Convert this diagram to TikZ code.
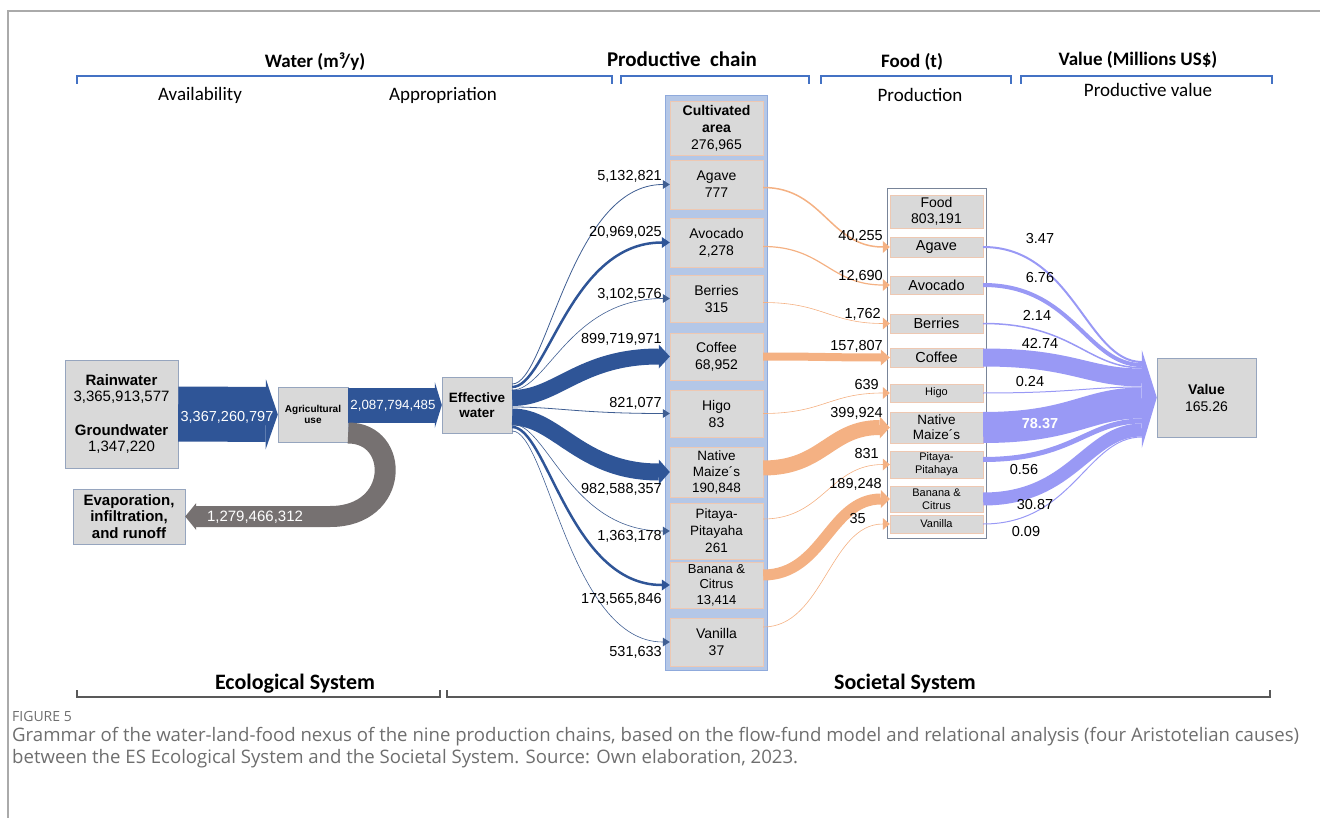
\documentclass[tikz,border=0pt]{standalone}
\usepackage{fontspec}
\setmainfont{Liberation Sans}
\newfontfamily\headFont{Carlito}
\newfontfamily\captionFont{Open Sans}
\usepackage{tikz}
\usetikzlibrary{arrows.meta}
\definecolor{boxGray}{RGB}{217,217,217}
\definecolor{boxEdge}{RGB}{150,165,190}
\definecolor{cropEdge}{RGB}{238,200,178}
\definecolor{stripBlue}{RGB}{180,199,231}
\definecolor{stripEdge}{RGB}{143,170,220}
\definecolor{waterBlue}{RGB}{47,85,151}
\definecolor{foodOrange}{RGB}{244,177,131}
\definecolor{valuePurple}{RGB}{153,153,245}
\definecolor{lossGray}{RGB}{118,113,113}
\definecolor{headBlue}{RGB}{68,114,196}
\definecolor{frameGray}{RGB}{170,170,170}
\definecolor{captionGray}{RGB}{110,110,110}

\begin{document}
\begin{tikzpicture}[x=1pt,y=-1pt]

            \tikzstyle{headLabel} = [font=\headFont\bfseries\fontsize{19}{22}\selectfont, inner sep=0pt];
            \tikzstyle{subLabel} = [font=\headFont\fontsize{19}{22}\selectfont, inner sep=0pt];
            \tikzstyle{sysLabel} = [font=\headFont\bfseries\fontsize{22}{26}\selectfont, inner sep=0pt];
            \tikzstyle{topBracket} = [headBlue, line width=2pt];
            \tikzstyle{botBracket} = [black!65, line width=1.3pt];
            \tikzstyle{srcBox} = [draw=boxEdge, fill=boxGray, inner sep=0pt, align=center, font=\bfseries\fontsize{15}{16.5}\selectfont];
            \tikzstyle{cropBox} = [draw=cropEdge, fill=boxGray, inner sep=0pt, align=center, minimum width=93pt, font=\fontsize{14}{17}\selectfont];
            \tikzstyle{foodBox} = [draw=cropEdge, fill=boxGray, inner sep=0pt, align=center, minimum width=93pt, font=\fontsize{14.5}{16}\selectfont];
            \tikzstyle{flowLabel} = [font=\fontsize{14.5}{16}\selectfont, inner sep=0pt];
            \tikzstyle{arrowLabel} = [font=\fontsize{14.5}{16}\selectfont, text=white, inner sep=0pt];
            \tikzstyle{capText} = [font=\captionFont\fontsize{18.6}{22}\selectfont, text=captionGray, inner sep=0pt, align=left];
            \tikzstyle{waterFlow} = [draw=waterBlue];
            \tikzstyle{thinWater} = [draw=waterBlue!80!gray];
            \tikzstyle{foodFlow} = [draw=foodOrange];
            \tikzstyle{valueFlow} = [draw=valuePurple];
            \tikzstyle{thinTip} = [-{Triangle[length=7pt,width=9pt,line width=0pt]}];

            \useasboundingbox (0,0) rectangle (1320,818);
            \draw[frameGray, line width=1.5pt] (8,818) -- (8,11) -- (1320,11);

            % headers
            \node[headLabel] (hWater) at (315,62) {Water (m³/y)};
            \node[headLabel, font=\headFont\bfseries\fontsize{21}{24}\selectfont] (hChain) at (682,59) {Productive~ chain};
            \node[headLabel] (hFood) at (912,62) {Food (t)};
            \node[headLabel] (hValue) at (1138,60) {Value (Millions US\$)};
            \node[subLabel] (sAvail) at (200,95) {Availability};
            \node[subLabel] (sAppr) at (443,95) {Appropriation};
            \node[subLabel] (sProd) at (920,95) {Production};
            \node[subLabel] (sPval) at (1148,90) {Productive value};

            \draw[topBracket] (77,84) -- (77,76) -- (612,76) -- (612,84);
            \draw[topBracket] (621,84) -- (621,76) -- (809,76) -- (809,84);
            \draw[topBracket] (821,84) -- (821,76) -- (1011,76) -- (1011,84);
            \draw[topBracket] (1021,84) -- (1021,76) -- (1272,76) -- (1272,84);

            % funds
            \fill[stripBlue, draw=stripEdge] (665,95) rectangle (767,670);
            \draw[boxEdge!80!black, fill=white, line width=0.8pt] (887,188) rectangle (986,538);

            % water side
            \node[srcBox, minimum width=113pt, minimum height=108pt] (src) at (121.5,414) {Rainwater\\\mdseries 3,365,913,577\\[17pt]Groundwater\\\mdseries 1,347,220};
            \node[srcBox, minimum width=70pt, minimum height=55pt, font=\bfseries\fontsize{10}{11.5}\selectfont] (agri) at (313,414.5) {Agricultural\\use};
            \node[srcBox, minimum width=70pt, minimum height=56pt, font=\bfseries\fontsize{13.5}{15}\selectfont] (eff) at (477,405) {Effective\\water};
            \node[srcBox, minimum width=112pt, minimum height=55pt] (evap) at (129,516.5) {Evaporation,\\infiltration,\\and runoff};

            \draw[waterBlue, line width=55pt, -{Triangle[length=12pt,width=70pt,line width=0pt]}] (src.east) -- (agri.west);
            \draw[waterBlue, line width=35pt, -{Triangle[length=7pt,width=46pt,line width=0pt]}] ([yshift=9.5pt]agri.east) -- (eff.west);
            \draw[lossGray, line width=21pt, -{Triangle[length=11pt,width=27pt,line width=0pt]}] ([yshift=-18.5pt]agri.east) .. controls +(52,0) and +(70,0) .. ([xshift=145pt]evap.east) -- (evap.east);
            \node[arrowLabel] (wTotal) at (227,417) {3,367,260,797};
            \node[arrowLabel, font=\fontsize{13.3}{15}\selectfont] (wEff) at (393,406) {2,087,794,485};
            \node[arrowLabel, font=\fontsize{15}{16}\selectfont] (wLoss) at (255,517) {1,279,466,312};

            % cultivated area
            \node[cropBox, minimum height=54pt] (cult) at (716.5,128) {\textbf{Cultivated}\\\textbf{area}\\276,965};
            \node[cropBox, minimum height=49pt] (agaveC) at (716.5,184.5) {Agave\\777};
            \node[cropBox, minimum height=49pt] (avocadoC) at (716.5,242.5) {Avocado\\2,278};
            \node[cropBox, minimum height=47pt] (berriesC) at (716.5,298.5) {Berries\\315};
            \node[cropBox, minimum height=47pt] (coffeeC) at (716.5,356.5) {Coffee\\68,952};
            \node[cropBox, minimum height=47pt] (higoC) at (716.5,413.5) {Higo\\83};
            \node[cropBox, minimum height=50pt, font=\fontsize{13.5}{16}\selectfont] (maizeC) at (716.5,472) {Native\\Maize´s\\190,848};
            \node[cropBox, minimum height=56pt, font=\fontsize{13.5}{17}\selectfont] (pitayaC) at (716.5,531) {Pitaya-\\Pitayaha\\261};
            \node[cropBox, minimum height=46pt, font=\fontsize{13}{15.5}\selectfont] (bananaC) at (716.5,585) {Banana \&\\Citrus\\13,414};
            \node[cropBox, minimum height=48pt] (vanillaC) at (716.5,642) {Vanilla\\37};

            % food
            \node[foodBox, minimum height=33pt, font=\fontsize{14}{16}\selectfont] (foodF) at (936.5,211.5) {Food\\803,191};
            \node[foodBox, minimum height=20pt] (agaveF) at (936.5,247) {Agave};
            \node[foodBox, minimum height=18pt] (avocadoF) at (936.5,285) {Avocado};
            \node[foodBox, minimum height=19pt] (berriesF) at (936.5,323.5) {Berries};
            \node[foodBox, minimum height=19pt] (coffeeF) at (936.5,357.5) {Coffee};
            \node[foodBox, minimum height=18pt, font=\fontsize{11}{13}\selectfont] (higoF) at (936.5,393) {Higo};
            \node[foodBox, minimum height=31pt, font=\fontsize{13.5}{15}\selectfont] (maizeF) at (936.5,427.5) {Native\\Maize´s};
            \node[foodBox, minimum height=27pt, font=\fontsize{11}{13}\selectfont] (pitayaF) at (936.5,464.5) {Pitaya-\\Pitahaya};
            \node[foodBox, minimum height=26pt, font=\fontsize{11}{13}\selectfont] (bananaF) at (936.5,499) {Banana \&\\Citrus};
            \node[foodBox, minimum height=18pt, font=\fontsize{11}{13}\selectfont] (vanillaF) at (936.5,524) {Vanilla};

            % value
            \node[srcBox, minimum width=99pt, minimum height=79pt, font=\fontsize{14}{17}\selectfont] (val) at (1206.5,397.5) {\textbf{Value}\\165.26};

            % water to crops
            \draw[thinWater, line width=0.8pt, thinTip] ([yshift=21pt]eff.east) .. controls +(35,0) and +(-100,0) .. (agaveC.west);
            \draw[waterFlow, line width=2.5pt, -{Triangle[length=8pt,width=11pt,line width=0pt]}] ([yshift=18pt]eff.east) .. controls +(35,0) and +(-100,0) .. (avocadoC.west);
            \draw[thinWater, line width=0.6pt, thinTip] ([yshift=15pt]eff.east) .. controls +(35,0) and +(-100,0) .. (berriesC.west);
            \draw[waterFlow, line width=16pt, -{Triangle[length=11pt,width=24pt,line width=0pt]}] ([yshift=7pt]eff.east) .. controls +(45,0) and +(-90,0) .. (coffeeC.west);
            \draw[thinWater, line width=0.8pt, thinTip] ([yshift=-2pt]eff.east) .. controls +(45,0) and +(-90,0) .. (higoC.west);
            \draw[waterFlow, line width=17pt, -{Triangle[length=11pt,width=25pt,line width=0pt]}] ([yshift=-12pt]eff.east) .. controls +(45,0) and +(-90,0) .. (maizeC.west);
            \draw[thinWater, line width=0.6pt, thinTip] ([yshift=-19pt]eff.east) .. controls +(35,0) and +(-100,0) .. (pitayaC.west);
            \draw[waterFlow, line width=2.5pt, -{Triangle[length=8pt,width=11pt,line width=0pt]}] ([yshift=-22pt]eff.east) .. controls +(35,0) and +(-100,0) .. (bananaC.west);
            \draw[thinWater, line width=0.6pt, thinTip] ([yshift=-26pt]eff.east) .. controls +(35,0) and +(-100,0) .. (vanillaC.west);

            \node[flowLabel, anchor=east] (wAgave) at (662,176) {5,132,821};
            \node[flowLabel, anchor=east] (wAvocado) at (662,232) {20,969,025};
            \node[flowLabel, anchor=east] (wBerries) at (662,294) {3,102,576};
            \node[flowLabel, anchor=east] (wCoffee) at (662,339) {899,719,971};
            \node[flowLabel, anchor=east] (wHigo) at (662,403) {821,077};
            \node[flowLabel, anchor=east] (wMaize) at (662,489) {982,588,357};
            \node[flowLabel, anchor=east] (wPitaya) at (662,536) {1,363,178};
            \node[flowLabel, anchor=east] (wBanana) at (662,599) {173,565,846};
            \node[flowLabel, anchor=east] (wVanilla) at (662,652) {531,633};

            % crops to food
            \draw[foodFlow, line width=1.5pt, -{Triangle[length=7pt,width=12pt,line width=0pt]}] ([yshift=-3pt]agaveC.east) .. controls +(60,0) and +(-60,0) .. (agaveF.west);
            \draw[foodFlow, line width=1.2pt, -{Triangle[length=7pt,width=12pt,line width=0pt]}] ([yshift=-4pt]avocadoC.east) .. controls +(60,0) and +(-60,0) .. (avocadoF.west);
            \draw[foodFlow, line width=0.6pt, -{Triangle[length=7pt,width=12pt,line width=0pt]}] ([yshift=-4pt]berriesC.east) .. controls +(60,0) and +(-60,0) .. (berriesF.west);
            \draw[foodFlow, line width=8pt, -{Triangle[length=9pt,width=16pt,line width=0pt]}] (coffeeC.east) .. controls +(60,0) and +(-60,0) .. (coffeeF.west);
            \draw[foodFlow, line width=0.6pt, -{Triangle[length=7pt,width=12pt,line width=0pt]}] (higoC.east) .. controls +(60,0) and +(-60,0) .. (higoF.west);
            \draw[foodFlow, line width=15pt, -{Triangle[length=10pt,width=22pt,line width=0pt]}] ([yshift=4pt]maizeC.east) .. controls +(60,0) and +(-60,0) .. (maizeF.west);
            \draw[foodFlow, line width=0.6pt, -{Triangle[length=7pt,width=12pt,line width=0pt]}] ([yshift=12pt]pitayaC.east) .. controls +(60,0) and +(-60,0) .. (pitayaF.west);
            \draw[foodFlow, line width=11pt, -{Triangle[length=9pt,width=18pt,line width=0pt]}] ([yshift=10pt]bananaC.east) .. controls +(60,0) and +(-60,0) .. (bananaF.west);
            \draw[foodFlow, line width=0.6pt, -{Triangle[length=7pt,width=12pt,line width=0pt]}] ([yshift=15pt]vanillaC.east) .. controls +(60,0) and +(-60,0) .. (vanillaF.west);

            \node[flowLabel, anchor=east] (fAgave) at (883,236) {40,255};
            \node[flowLabel, anchor=east] (fAvocado) at (883,276) {12,690};
            \node[flowLabel, anchor=east] (fBerries) at (881,314) {1,762};
            \node[flowLabel, anchor=east] (fCoffee) at (883,346) {157,807};
            \node[flowLabel, anchor=east] (fHigo) at (879,385) {639};
            \node[flowLabel, anchor=east] (fMaize) at (883,413) {399,924};
            \node[flowLabel, anchor=east] (fPitaya) at (879,454) {831};
            \node[flowLabel, anchor=east] (fBanana) at (882,484) {189,248};
            \node[flowLabel, anchor=east] (fVanilla) at (866,519) {35};

            % food to value
            \draw[valueFlow, line width=2pt] (agaveF.east) .. controls +(90,0) and +(-55,0) .. ([xshift=-15pt,yshift=35.5pt]val.west);
            \draw[valueFlow, line width=4pt] (avocadoF.east) .. controls +(90,0) and +(-55,0) .. ([xshift=-15pt,yshift=32.5pt]val.west);
            \draw[valueFlow, line width=1.5pt] (berriesF.east) .. controls +(90,0) and +(-55,0) .. ([xshift=-15pt,yshift=29.75pt]val.west);
            \draw[valueFlow, line width=18pt] (coffeeF.east) .. controls +(90,0) and +(-55,0) .. ([xshift=-15pt,yshift=20pt]val.west);
            \draw[valueFlow, line width=1pt] (higoF.east) .. controls +(90,0) and +(-55,0) .. ([xshift=-15pt,yshift=10.5pt]val.west);
            \draw[valueFlow, line width=31pt] (maizeF.east) .. controls +(90,0) and +(-55,0) .. ([xshift=-15pt,yshift=-5.5pt]val.west);
            \draw[valueFlow, line width=5pt] ([yshift=5pt]pitayaF.east) .. controls +(90,0) and +(-55,0) .. ([xshift=-15pt,yshift=-23.5pt]val.west);
            \draw[valueFlow, line width=13pt] (bananaF.east) .. controls +(90,0) and +(-55,0) .. ([xshift=-15pt,yshift=-32.5pt]val.west);
            \draw[valueFlow, line width=1pt] (vanillaF.east) .. controls +(90,0) and +(-55,0) .. ([xshift=-15pt,yshift=-39.5pt]val.west);
            \fill[valuePurple] ([xshift=-15pt,yshift=47.5pt]val.west) -- (val.west) -- ([xshift=-15pt,yshift=-50.5pt]val.west) -- cycle;

            \node[flowLabel] (vAgave) at (1040,239) {3.47};
            \node[flowLabel] (vAvocado) at (1040,278) {6.76};
            \node[flowLabel] (vBerries) at (1037,315) {2.14};
            \node[flowLabel] (vCoffee) at (1040,343) {42.74};
            \node[flowLabel] (vHigo) at (1030,382) {0.24};
            \node[arrowLabel, font=\bfseries\fontsize{14.5}{16}\selectfont] (vMaize) at (1040,424) {78.37};
            \node[flowLabel] (vPitaya) at (1024,470) {0.56};
            \node[flowLabel] (vBanana) at (1035,505) {30.87};
            \node[flowLabel] (vVanilla) at (1026,532) {0.09};

            % systems
            \node[sysLabel] (bEco) at (295,684) {Ecological System};
            \node[sysLabel] (bSoc) at (905,684) {Societal System};
            \draw[botBracket] (77,690) -- (77,697) -- (440,697) -- (440,690);
            \draw[botBracket] (447,690) -- (447,697) -- (1270,697) -- (1270,690);

            % caption
            \node[capText, anchor=west, font=\captionFont\fontsize{14}{16}\selectfont] (figNo) at (12,716) {FIGURE 5};
            \node[capText, anchor=north west] (capBody) at (12,727) {Grammar of the water-land-food nexus of the nine production chains, based on the flow-fund model and relational analysis (four Aristotelian causes)\\between the ES Ecological System and the Societal System. Source: Own elaboration, 2023.};
          \end{tikzpicture}
\end{document}
